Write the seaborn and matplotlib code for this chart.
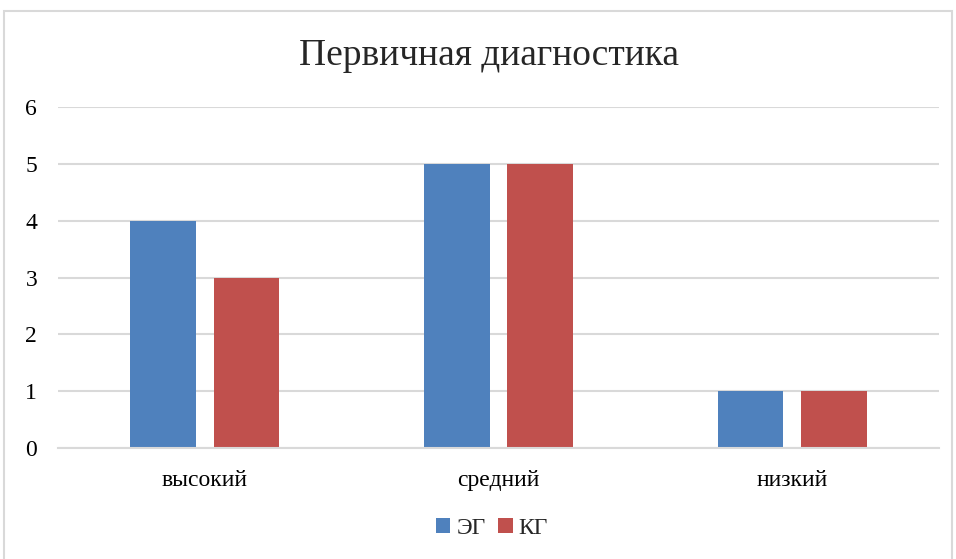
import matplotlib
matplotlib.use("Agg")
import matplotlib.pyplot as plt
from matplotlib.patches import Rectangle, Patch
import seaborn as sns
import pandas as pd

categories = ["высокий", "средний", "низкий"]
groups = ["ЭГ", "КГ"]
eg_values = [4, 5, 1]
kg_values = [3, 5, 1]
y_ticks = [0, 1, 2, 3, 4, 5, 6]
title = "Первичная диагностика"

colors = {"ЭГ": "#4F81BD", "КГ": "#C0504D"}
grid_color = "#D9D9D9"

df = pd.DataFrame({
    "category": categories * 2,
    "group": [groups[0]] * 3 + [groups[1]] * 3,
    "value": eg_values + kg_values,
})

sns.set_style("white")
plt.rcParams["font.family"] = ["Liberation Serif", "DejaVu Serif"]

fig = plt.figure(figsize=(9.56, 5.59), dpi=100)
ax = fig.add_axes([58 / 956, 1 - 448 / 559, (939 - 58) / 956, (448 - 107) / 559])

sns.barplot(data=df, x="category", y="value", hue="group", order=categories,
            hue_order=groups, palette=colors, width=0.568, gap=0.21,
            saturation=1, ax=ax, legend=False, linewidth=0)

ax.set_xlim(-0.5, 2.5)
ax.set_ylim(0, 6)
ax.set_yticks(y_ticks)
ax.set_yticklabels([str(t) for t in y_ticks])
ax.yaxis.grid(True, color=grid_color, linewidth=1.5)
ax.set_axisbelow(True)
for side in ["top", "right", "left"]:
    ax.spines[side].set_visible(False)
ax.spines["bottom"].set_color(grid_color)
ax.spines["bottom"].set_linewidth(1.5)
ax.tick_params(axis="both", length=0, labelsize=17, colors="#000000")
ax.tick_params(axis="x", pad=16)
ax.tick_params(axis="y", pad=15)
ax.set_xlabel("")
ax.set_ylabel("")

fig.text(489 / 956, 1 - 56 / 559, title, ha="center", va="center", fontsize=27)

handles = [Patch(facecolor=colors[g], edgecolor="none") for g in groups]
fig.legend(handles, groups, loc="center", bbox_to_anchor=(492 / 956, 1 - 528 / 559),
           ncol=2, frameon=False, fontsize=17, handlelength=0.6, handleheight=0.6,
           handletextpad=0.25, columnspacing=0.55)

fig.patches.append(Rectangle((4 / 956, -0.05), 948 / 956, 1 - 11 / 559 + 0.05,
                             transform=fig.transFigure, fill=False,
                             edgecolor=grid_color, linewidth=1.5))

fig.savefig("out.png", dpi=100)
